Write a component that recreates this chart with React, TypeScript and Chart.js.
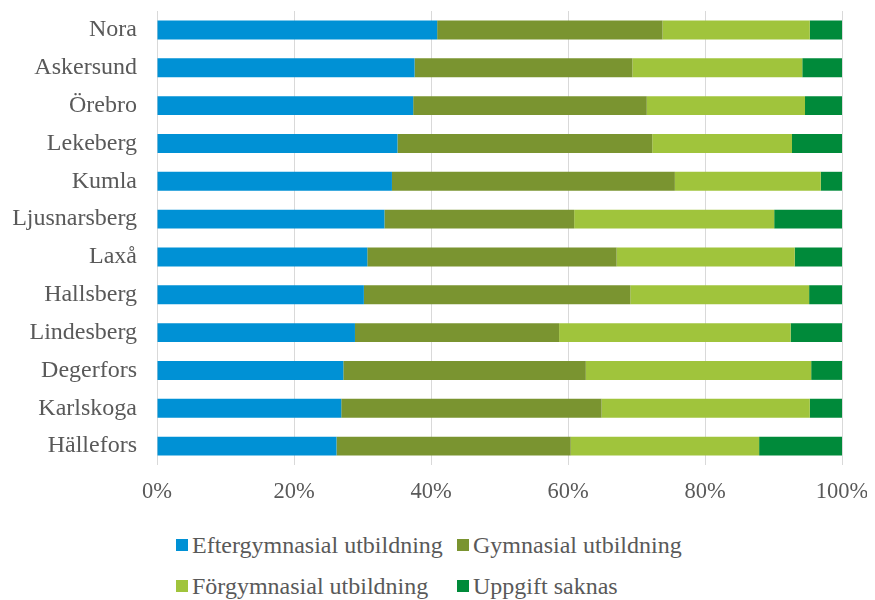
import React, { useEffect, useRef } from "react";
import { Chart, registerables } from "chart.js";

Chart.register(...registerables);

const categories = [
  "Nora", "Askersund", "Örebro", "Lekeberg", "Kumla", "Ljusnarsberg",
  "Laxå", "Hallsberg", "Lindesberg", "Degerfors", "Karlskoga", "Hällefors",
];
const eftergymnasial = [40.9, 37.6, 37.4, 35.1, 34.3, 33.2, 30.7, 30.2, 28.9, 27.2, 26.9, 26.2];
const gymnasial = [32.9, 31.8, 34.1, 37.2, 41.3, 27.7, 36.4, 38.9, 29.8, 35.4, 38.0, 34.2];
const forgymnasial = [21.5, 24.8, 23.1, 20.4, 21.3, 29.2, 26.0, 26.1, 33.8, 32.9, 30.4, 27.5];
const saknas = [4.7, 5.8, 5.4, 7.3, 3.1, 9.9, 6.9, 4.8, 7.5, 4.5, 4.7, 12.1];
const xTicks = [0, 20, 40, 60, 80, 100];

const seriesNames = ["Eftergymnasial utbildning", "Gymnasial utbildning", "Förgymnasial utbildning", "Uppgift saknas"];
const seriesColors = ["#0091D5", "#7A9430", "#A0C43C", "#008A3A"];

const FONT = "'Liberation Serif', 'Times New Roman', serif";
const TEXT = "#595959";

export default function App() {
  const ref = useRef<HTMLCanvasElement | null>(null);

  useEffect(() => {
    if (!ref.current) return;
    const values = [eftergymnasial, gymnasial, forgymnasial, saknas];
    const chart = new Chart(ref.current, {
      type: "bar",
      data: {
        labels: categories,
        datasets: values.map((d, i) => ({
          label: seriesNames[i],
          data: d,
          backgroundColor: seriesColors[i],
          borderWidth: 0,
          barPercentage: 0.5,
          categoryPercentage: 1,
        })),
      },
      options: {
        indexAxis: "y",
        animation: false,
        responsive: false,
        maintainAspectRatio: false,
        layout: { padding: { top: 3, right: 25, bottom: 0, left: 0 } },
        plugins: { legend: { display: false }, tooltip: { enabled: false } },
        scales: {
          x: {
            stacked: true,
            min: 0,
            max: 100,
            afterBuildTicks: (s: any) => {
              s.ticks = xTicks.map((v) => ({ value: v }));
            },
            afterFit: (s: any) => {
              s.paddingLeft = 0;
              s.paddingRight = 0;
            },
            ticks: {
              padding: 14,
              maxRotation: 0,
              color: TEXT,
              font: { family: FONT, size: 22.5 },
              callback: (v: any) => v + "%",
            },
            grid: { color: "#D9D9D9", lineWidth: 1, drawTicks: false },
            border: { display: false },
          },
          y: {
            stacked: true,
            afterFit: (s: any) => {
              s.width = 149;
              s.paddingTop = 0;
              s.paddingBottom = 0;
            },
            ticks: {
              padding: 20,
              color: TEXT,
              font: { family: FONT, size: 24 },
            },
            grid: { display: false, drawTicks: false },
            border: { display: false },
          },
        },
      },
    });
    return () => chart.destroy();
  }, []);

  return (
    <div style={{ position: "relative", width: 859, height: 592 }}>
      <canvas ref={ref} width={859} height={512} style={{ display: "block" }} />
      <div
        style={{
          position: "absolute",
          left: 168,
          top: 525,
          display: "grid",
          gridTemplateColumns: "281px auto",
          gridAutoRows: "24px",
          rowGap: 17,
          lineHeight: "24px",
          fontFamily: FONT,
          fontSize: 24,
          color: TEXT,
        }}
      >
        {seriesNames.map((n, i) => (
          <div key={n} style={{ display: "flex", alignItems: "center", whiteSpace: "nowrap" }}>
            <span
              style={{
                display: "inline-block",
                width: 12,
                height: 12,
                background: seriesColors[i],
                marginRight: 4,
              }}
            />
            <span>{n}</span>
          </div>
        ))}
      </div>
    </div>
  );
}
